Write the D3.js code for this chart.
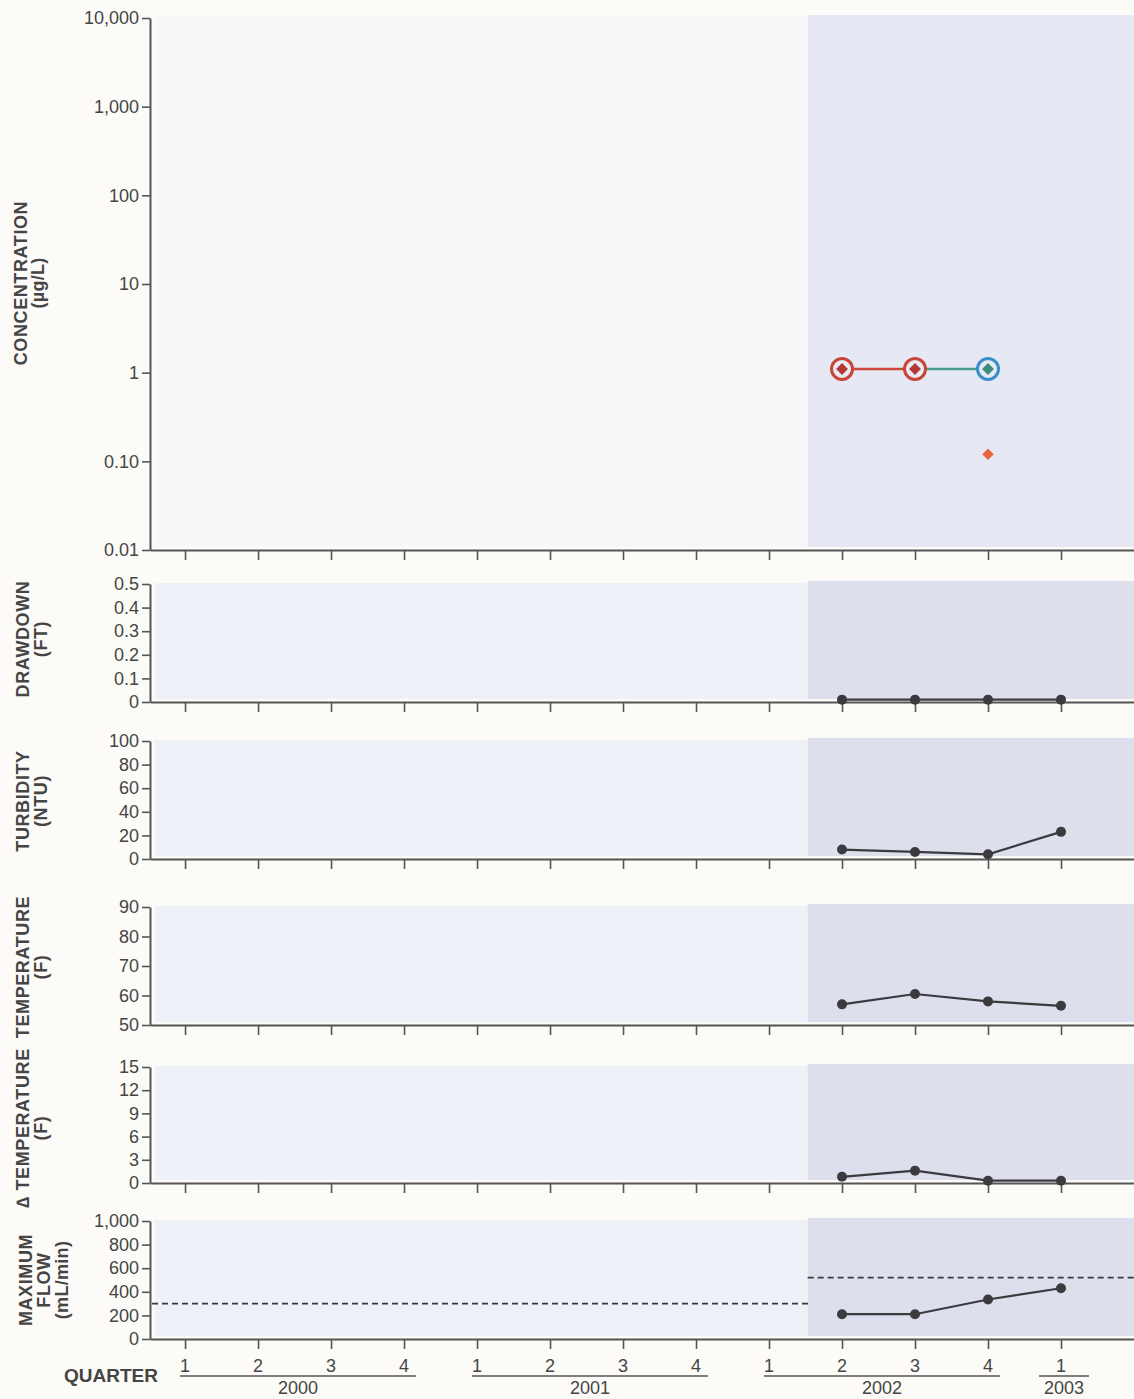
<!DOCTYPE html>
<html>
<head>
<meta charset="utf-8">
<script src="https://cdn.jsdelivr.net/npm/d3@7"></script>
<style>
  html, body { margin: 0; padding: 0; background: #fcfbf8; }
  svg { display: block; }
  text { font-family: "Liberation Sans", Arial, Helvetica, sans-serif; fill: #454545; }
</style>
</head>
<body>
<svg id="chart" width="1134" height="1399"></svg>
<script>
// ---- data ----
const quarterLabels = ["1", "2", "3", "4", "1", "2", "3", "4", "1", "2", "3", "4", "1"];
const yearLabels = ["2000", "2001", "2002", "2003"];
const yearFirstQuarter = [0, 4, 8, 12];
const yearLastQuarter = [3, 7, 11, 12];

// quarter index where the shaded (sampled) period begins
const shadeStart = 8.53;

// concentration results (µg/L)
const concQuarters = [9, 10, 11];
const concValues = [1.1, 1.1, 1.1];
const concGroup = ["red", "red", "blue"];
const concExtraQuarters = [11];
const concExtraValues = [0.12];

// field parameters, one value per sampled quarter
const fieldQuarters = [9, 10, 11, 12];
const drawdown = [0.01, 0.01, 0.01, 0.01];
const turbidity = [8, 6, 4, 23];
const temperature = [57, 60.5, 58, 56.5];
const deltaTemperature = [0.8, 1.6, 0.3, 0.3];
const maximumFlow = [210, 210, 335, 430];

// maximum-flow limits (mL/min) before and after the change
const flowLimitValues = [300, 520];

// tick values and labels
const concTicks = [0.01, 0.1, 1, 10, 100, 1000, 10000];
const concTickLabels = ["0.01", "0.10", "1", "10", "100", "1,000", "10,000"];
const drawdownTicks = [0, 0.1, 0.2, 0.3, 0.4, 0.5];
const drawdownTickLabels = ["0", "0.1", "0.2", "0.3", "0.4", "0.5"];
const turbidityTicks = [0, 20, 40, 60, 80, 100];
const temperatureTicks = [50, 60, 70, 80, 90];
const deltaTicks = [0, 3, 6, 9, 12, 15];
const flowTicks = [0, 200, 400, 600, 800, 1000];
const flowTickLabels = ["0", "200", "400", "600", "800", "1,000"];

// ---- layout ----
const svg = d3.select("#chart");
const W = 1134;
const x = d3.scaleLinear().domain([-0.48, 13]).range([150, 1134]);
const axisColor = "#555";
const textColor = "#454545";
const lightFill = "#eef1f8";
const darkFill = "#dde0ec";

function drawPanel(p) {
  const g = svg.append("g");
  const [yBottom, yTop] = p.y.range();

  // background shading
  g.append("rect").attr("x", 155).attr("y", yTop - 1)
    .attr("width", x(shadeStart) - 155).attr("height", yBottom - yTop - 2)
    .attr("fill", p.light || lightFill);
  g.append("rect").attr("x", x(shadeStart)).attr("y", yTop - 3)
    .attr("width", W - x(shadeStart)).attr("height", yBottom - yTop)
    .attr("fill", p.dark || darkFill);

  // y axis
  const labelMap = new Map(p.ticks.map((t, i) => [t, p.tickLabels ? p.tickLabels[i] : String(t)]));
  const yAxis = d3.axisLeft(p.y).tickValues(p.ticks)
    .tickFormat(d => labelMap.get(d)).tickSize(8).tickSizeOuter(0).tickPadding(3);
  const ya = g.append("g").attr("transform", "translate(150,0)").call(yAxis);
  ya.select(".domain").attr("stroke", axisColor).attr("stroke-width", 2);
  ya.selectAll(".tick line").attr("stroke", axisColor).attr("stroke-width", 1.6);
  ya.selectAll(".tick text").attr("font-size", 18).attr("fill", textColor)
    .attr("font-family", "'Liberation Sans', Arial, sans-serif");

  // x axis (quarters)
  const xAxis = d3.axisBottom(x).tickValues(d3.range(quarterLabels.length))
    .tickFormat("").tickSize(10).tickSizeOuter(0);
  const xa = g.append("g").attr("transform", `translate(0,${yBottom})`).call(xAxis);
  xa.select(".domain").attr("stroke", axisColor).attr("stroke-width", 2);
  xa.selectAll(".tick line").attr("stroke", axisColor).attr("stroke-width", 1.6);

  // axis title
  p.title.forEach(t => {
    g.append("text")
      .attr("transform", `translate(${t.x},${p.titleY}) rotate(-90)`)
      .attr("text-anchor", "middle")
      .attr("font-size", t.size || 18)
      .attr("font-weight", "bold")
      .attr("letter-spacing", t.spacing != null ? t.spacing : 0.6)
      .attr("fill", textColor)
      .text(t.text);
  });
  return g;
}

function drawSeries(g, y, values) {
  const pts = fieldQuarters.map((q, i) => [x(q), y(values[i])]);
  g.append("path").attr("d", d3.line()(pts))
    .attr("fill", "none").attr("stroke", "#3a3a3f").attr("stroke-width", 2.2);
  g.selectAll(null).data(pts).enter().append("circle")
    .attr("cx", d => d[0]).attr("cy", d => d[1]).attr("r", 5)
    .attr("fill", "#3a3a3f");
}

// ---- concentration panel ----
const yConc = d3.scaleLog().domain([0.01, 10000]).range([550, 18]);
{
  const g = drawPanel({
    y: yConc, ticks: concTicks, tickLabels: concTickLabels,
    light: "#f7f7fa", dark: "#e6e9f3",
    titleY: 283,
    title: [{ text: "CONCENTRATION", x: 27 }, { text: "(µg/L)", x: 44, spacing: 0.3 }]
  });
  const colors = { red: "#c9453a", blue: "#3b8fc9" };
  const innerColors = { red: "#b23a36", blue: "#3d8d7c" };
  const lineColors = { red: "#cc4a3b", blue: "#4a9a8c" };
  // connecting segments, coloured by the later sample
  for (let i = 1; i < concQuarters.length; i++) {
    g.append("line")
      .attr("x1", x(concQuarters[i - 1])).attr("y1", yConc(concValues[i - 1]))
      .attr("x2", x(concQuarters[i])).attr("y2", yConc(concValues[i]))
      .attr("stroke", lineColors[concGroup[i]]).attr("stroke-width", 2.4);
  }
  concQuarters.forEach((q, i) => {
    const cx = x(q), cy = yConc(concValues[i]);
    g.append("circle").attr("cx", cx).attr("cy", cy).attr("r", 10.5)
      .attr("fill", "#e8ebf4").attr("stroke", colors[concGroup[i]]).attr("stroke-width", 3);
    g.append("path").attr("transform", `translate(${cx},${cy}) rotate(45)`)
      .attr("d", d3.symbol().type(d3.symbolSquare).size(70)())
      .attr("fill", innerColors[concGroup[i]]);
  });
  concExtraQuarters.forEach((q, i) => {
    g.append("path").attr("transform", `translate(${x(q)},${yConc(concExtraValues[i])}) rotate(45)`)
      .attr("d", d3.symbol().type(d3.symbolSquare).size(66)())
      .attr("fill", "#e8663c");
  });
}

// ---- drawdown ----
{
  const y = d3.scaleLinear().domain([0, 0.5]).range([702, 584]);
  const g = drawPanel({
    y, ticks: drawdownTicks, tickLabels: drawdownTickLabels, titleY: 639,
    title: [{ text: "DRAWDOWN", x: 29 }, { text: "(FT)", x: 47 }]
  });
  drawSeries(g, y, drawdown);
}

// ---- turbidity ----
{
  const y = d3.scaleLinear().domain([0, 100]).range([859, 741]);
  const g = drawPanel({
    y, ticks: turbidityTicks, titleY: 801,
    title: [{ text: "TURBIDITY", x: 29 }, { text: "(NTU)", x: 47 }]
  });
  drawSeries(g, y, turbidity);
}

// ---- temperature ----
{
  const y = d3.scaleLinear().domain([50, 90]).range([1025, 907]);
  const g = drawPanel({
    y, ticks: temperatureTicks, titleY: 967,
    title: [{ text: "TEMPERATURE", x: 29 }, { text: "(F)", x: 47 }]
  });
  drawSeries(g, y, temperature);
}

// ---- delta temperature ----
{
  const y = d3.scaleLinear().domain([0, 15]).range([1183, 1067]);
  const g = drawPanel({
    y, ticks: deltaTicks, titleY: 1128,
    title: [{ text: "\u2206 TEMPERATURE", x: 29 }, { text: "(F)", x: 47 }]
  });
  drawSeries(g, y, deltaTemperature);
}

// ---- maximum flow ----
{
  const y = d3.scaleLinear().domain([0, 1000]).range([1339, 1221]);
  const g = drawPanel({
    y, ticks: flowTicks, tickLabels: flowTickLabels, titleY: 1280,
    title: [{ text: "MAXIMUM", x: 32 }, { text: "FLOW", x: 50 }, { text: "(mL/min)", x: 68, spacing: 0.3 }]
  });
  // flow limits
  const limitSpans = [[152, x(shadeStart) + 2], [x(shadeStart), W]];
  flowLimitValues.forEach((v, i) => {
    g.append("line")
      .attr("x1", limitSpans[i][0]).attr("x2", limitSpans[i][1])
      .attr("y1", y(v)).attr("y2", y(v))
      .attr("stroke", "#3a3a3f").attr("stroke-width", 1.6)
      .attr("stroke-dasharray", "6,4");
  });
  drawSeries(g, y, maximumFlow);
}

// ---- quarter / year labels ----
const lab = svg.append("g");
lab.append("text").attr("x", 158).attr("y", 1382).attr("text-anchor", "end")
  .attr("font-size", 19).attr("font-weight", "bold").attr("fill", textColor)
  .text("QUARTER");
lab.selectAll(null).data(quarterLabels).enter().append("text")
  .attr("x", (d, i) => x(i)).attr("y", 1372).attr("text-anchor", "middle")
  .attr("font-size", 18).attr("fill", textColor).text(d => d);
yearLabels.forEach((yr, i) => {
  const a = x(yearFirstQuarter[i]), b = x(yearLastQuarter[i]);
  const single = yearFirstQuarter[i] === yearLastQuarter[i];
  const x1 = single ? a - 22 : a - 5;
  const x2 = single ? a + 28 : b + 12;
  lab.append("line").attr("x1", x1).attr("x2", x2).attr("y1", 1376).attr("y2", 1376)
    .attr("stroke", axisColor).attr("stroke-width", 1.6);
  lab.append("text").attr("x", (x1 + x2) / 2).attr("y", 1394).attr("text-anchor", "middle")
    .attr("font-size", 18).attr("fill", textColor).text(yr);
});
</script>
</body>
</html>
